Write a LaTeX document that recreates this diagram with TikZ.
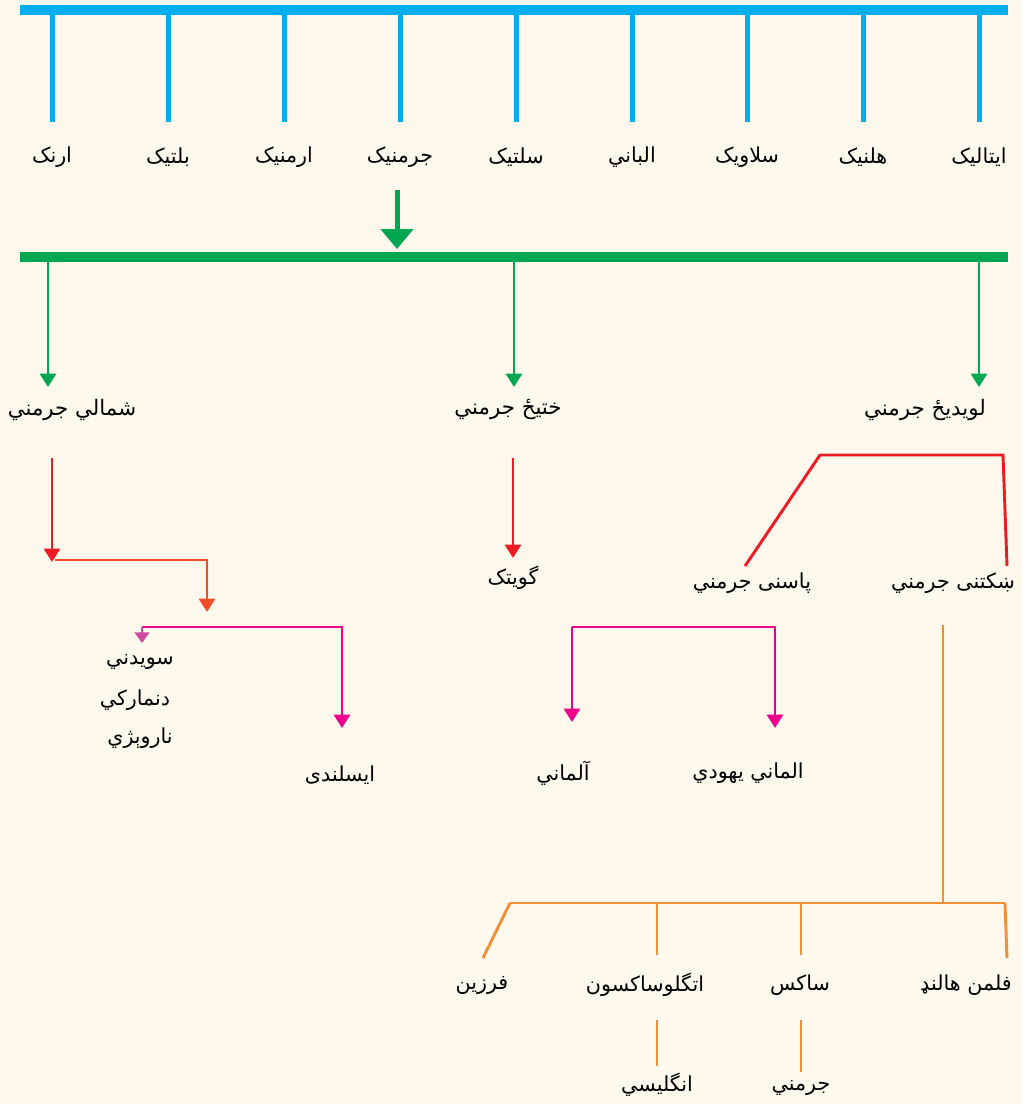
\documentclass[tikz,border=0pt]{standalone}
\usepackage{fontspec}
\newfontfamily\arabicfont[Script=Arabic]{DejaVu Sans}
\TeXXeTstate=1
\usetikzlibrary{arrows.meta}
\definecolor{paper}{HTML}{FFF8EC}
\definecolor{skyline}{HTML}{00AEEF}
\definecolor{leafline}{HTML}{00A651}
\definecolor{redline}{HTML}{ED1C24}
\definecolor{rustline}{HTML}{F04E2A}
\definecolor{pinkline}{HTML}{EC008C}
\definecolor{plumline}{HTML}{CF4BA0}
\definecolor{orangeline}{HTML}{F0913A}
\tikzset{lang/.style={font=\arabicfont\fontsize{15.5}{19}\selectfont, inner sep=1pt},
  biglang/.style={lang, font=\arabicfont\fontsize{16}{19}\selectfont},
  stem/.style={line width=3.75pt},
  twig/.style={line width=2.2pt},
  tip/.style={-{Triangle[width=12pt,length=10pt]}}}

\begin{document}
\begin{tikzpicture}[x=0.75pt,y=-0.75pt]
  \fill[paper] (0,0) rectangle (1022,1104);
  \useasboundingbox (0,0) rectangle (1022,1104);
  % top row
  \coordinate (topL) at (20,10);
  \coordinate (topR) at (1008,10);
  \draw[skyline, line width=7.5pt] (topL) -- (topR);
  \foreach \x/\lab/\name in {
    52/ارنک/arn,
    168/بلتیک/balt,
    284/ارمنیک/arm,
    400/جرمنیک/germ,
    516/سلتیک/celt,
    632/الباني/alb,
    747/سلاویک/slav,
    863/هلنیک/hell,
    979/ایتالیک/ital%
  } {
    \coordinate (t\name) at (\x,10);
    \coordinate (b\name) at (\x,122);
    \node[lang] (\name) at (\x,157) {\beginR\lab\endR};
    \draw[skyline, stem] (t\name) -- (b\name);
  }
  % germanic bar
  \coordinate (gfrom) at (397,190);
  \coordinate (gto) at (397,249);
  \draw[leafline, stem, -{Triangle[width=24pt,length=15pt]}] (gfrom) -- (gto);
  \coordinate (barL) at (20,257);
  \coordinate (barR) at (1008,257);
  \draw[leafline, line width=7.5pt] (barL) -- (barR);
  \foreach \x/\name in {48/north, 514/east, 979/west} {
    \coordinate (s\name) at (\x,262);
    \coordinate (e\name) at (\x,387);
    \draw[leafline, twig, tip] (s\name) -- (e\name);
  }
  \node[biglang] (north) at (72,410) {\beginR شمالي جرمني\endR};
  \node[biglang] (east) at (508,410) {\beginR ختیځ جرمني\endR};
  \node[biglang] (west) at (925,410) {\beginR لویدیځ جرمني\endR};
  % north branch
  \coordinate (n1) at (52,458);
  \coordinate (n2) at (52,562);
  \coordinate (n3) at (55,560);
  \coordinate (n4) at (207,560);
  \coordinate (n5) at (207,612);
  \draw[redline, twig, tip] (n1) -- (n2);
  \draw[rustline, twig, tip] (n3) -- (n4) -- (n5);
  \coordinate (s1) at (142,627);
  \coordinate (s2) at (342,627);
  \coordinate (s3) at (342,728);
  \coordinate (s4) at (142,643);
  \draw[pinkline, twig, tip] (s1) -- (s2) -- (s3);
  \draw[plumline, twig, -{Triangle[width=11pt,length=8pt]}] (s1) -- (s4);
  \node[lang] (swe) at (140,662) {\beginR سویدني\endR};
  \node[lang] (dan) at (135,700) {\beginR دنمارکي\endR};
  \node[lang] (nor) at (140,738) {\beginR ناروېژي\endR};
  \node[lang] (ice) at (340,775) {\beginR ایسلندی\endR};
  % east branch
  \coordinate (e1) at (513,458);
  \coordinate (e2) at (513,558);
  \draw[redline, twig, tip] (e1) -- (e2);
  \node[lang] (goth) at (513,578) {\beginR گویتک\endR};
  % west branch
  \coordinate (w1) at (745,566);
  \coordinate (w2) at (820,455);
  \coordinate (w3) at (1003,455);
  \coordinate (w4) at (1007,566);
  \draw[redline, twig] (w1) -- (w2) -- (w3) -- (w4);
  \node[lang] (high) at (752,583) {\beginR پاسنی جرمني\endR};
  \node[lang] (low) at (953,583) {\beginR ښکتنی جرمني\endR};
  % high german
  \coordinate (h1) at (572,627);
  \coordinate (h2) at (775,627);
  \coordinate (h3) at (572,722);
  \coordinate (h4) at (775,728);
  \draw[pinkline, twig, tip] (h1) -- (h3);
  \draw[pinkline, twig, tip] (h1) -- (h2) -- (h4);
  \node[lang] (ger) at (563,773) {\beginR آلماني\endR};
  \node[lang] (yid) at (748,773) {\beginR الماني یهودي\endR};
  % low german
  \coordinate (l0) at (943,625);
  \coordinate (l1) at (943,903);
  \coordinate (lL) at (510,903);
  \coordinate (lR) at (1005,903);
  \draw[orangeline, twig] (l0) -- (l1);
  \draw[orangeline, twig] (lL) -- (lR);
  \coordinate (f1) at (483,958);
  \draw[orangeline, twig] (lL) -- (f1);
  \coordinate (f2) at (1007,958);
  \draw[orangeline, twig] (lR) -- (f2);
  \foreach \x/\name in {657/ang, 801/sax} {
    \coordinate (u\name) at (\x,903);
    \coordinate (v\name) at (\x,955);
    \draw[orangeline, twig] (u\name) -- (v\name);
  }
  \node[lang] (fris) at (482,985) {\beginR فرزین\endR};
  \node[lang] (angsax) at (645,985) {\beginR اتگلوساکسون\endR};
  \node[lang] (saxon) at (800,985) {\beginR ساکس\endR};
  \node[lang] (dutch) at (966,985) {\beginR فلمن هالنډ\endR};
  \coordinate (a1) at (657,1020);
  \coordinate (a2) at (657,1066);
  \coordinate (x1) at (801,1020);
  \coordinate (x2) at (801,1072);
  \draw[orangeline, twig] (a1) -- (a2);
  \draw[orangeline, twig] (x1) -- (x2);
  \node[lang] (eng) at (657,1085) {\beginR انگلیسي\endR};
  \node[lang] (deu) at (801,1088) {\beginR جرمني\endR};
\end{tikzpicture}
\end{document}
